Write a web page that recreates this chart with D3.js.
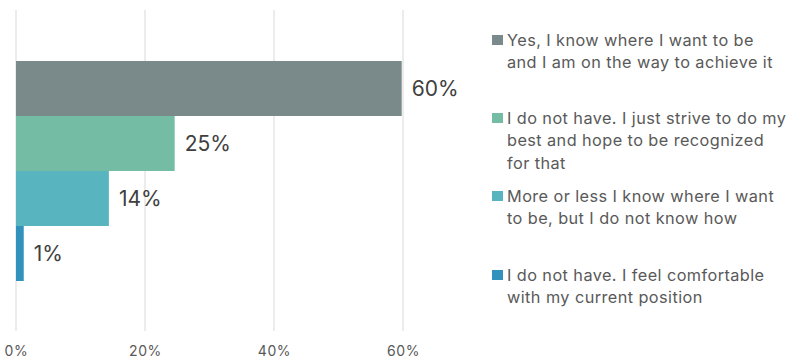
<!DOCTYPE html>
<html><head><meta charset="utf-8">
<script src="https://cdn.jsdelivr.net/npm/d3@7"></script>
<style>body{margin:0;background:#fff}svg{display:block}</style>
</head><body>
<svg id="c" width="791" height="358"></svg>
<script>
const categories = [
  "Yes, I know where I want to be and I am on the way to achieve it",
  "I do not have. I just strive to do my best and hope to be recognized for that",
  "More or less I know where I want to be, but I do not know how",
  "I do not have. I feel comfortable with my current position"
];
const legendLines = [
  ["Yes, I know where I want to be", "and I am on the way to achieve it"],
  ["I do not have. I just strive to do my", "best and hope to be recognized", "for that"],
  ["More or less I know where I want", "to be, but I do not know how"],
  ["I do not have. I feel comfortable", "with my current position"]
];
const values = [59.8, 24.6, 14.4, 1.2];
const valueLabels = ["60%", "25%", "14%", "1%"];
const colors = ["#7a8a8b", "#75bca4", "#58b5c0", "#3192bd"];
const ticks = [0, 20, 40, 60];

const svg = d3.select("#c");
const font = "Inter, 'Open Sans', sans-serif";
const x = d3.scaleLinear().domain([0, 60]).range([16, 403]);
const y = d3.scaleBand().domain(categories).range([61, 281]).padding(0);

// gridlines
svg.append("g").selectAll("line").data(ticks).join("line")
  .attr("x1", d => x(d)).attr("x2", d => x(d))
  .attr("y1", 10).attr("y2", 331)
  .attr("stroke", "#d9d9d9").attr("stroke-width", 1);

// axis
const axis = d3.axisBottom(x).tickValues(ticks).tickFormat(d => d + "%").tickSize(0).tickPadding(0);
const ag = svg.append("g").attr("transform", "translate(0,351)").call(axis);
ag.select(".domain").remove();
ag.selectAll("text").attr("font-family", font).attr("font-size", 14).attr("letter-spacing", 0.6)
  .attr("fill", "#595959").attr("dy", "0.35em").attr("y", 0);

// bars
svg.append("g").selectAll("rect").data(values).join("rect")
  .attr("x", x(0)).attr("y", (d, i) => y(categories[i]))
  .attr("width", d => x(d) - x(0)).attr("height", y.bandwidth())
  .attr("fill", (d, i) => colors[i]);

// value labels
svg.append("g").selectAll("text").data(values).join("text")
  .attr("x", d => x(d) + 10).attr("y", (d, i) => y(categories[i]) + y.bandwidth() / 2)
  .attr("dy", "0.35em").attr("font-family", font).attr("font-size", 21).attr("fill", "#404040")
  .text((d, i) => valueLabels[i]);

// legend
const lg = svg.append("g");
const entryY = [40, 118, 196, 275];
categories.forEach((c, i) => {
  const g = lg.append("g").attr("transform", `translate(492,${entryY[i]})`);
  g.append("rect").attr("x", 0).attr("y", -5).attr("width", 11).attr("height", 10).attr("fill", colors[i]);
  legendLines[i].forEach((ln, j) => {
    g.append("text").attr("x", 15).attr("y", j * 22.5).attr("dy", "0.35em")
      .attr("font-family", font).attr("font-size", 16.3).attr("letter-spacing", 0.42)
      .attr("fill", "#595959").text(ln);
  });
});
</script>
</body></html>
